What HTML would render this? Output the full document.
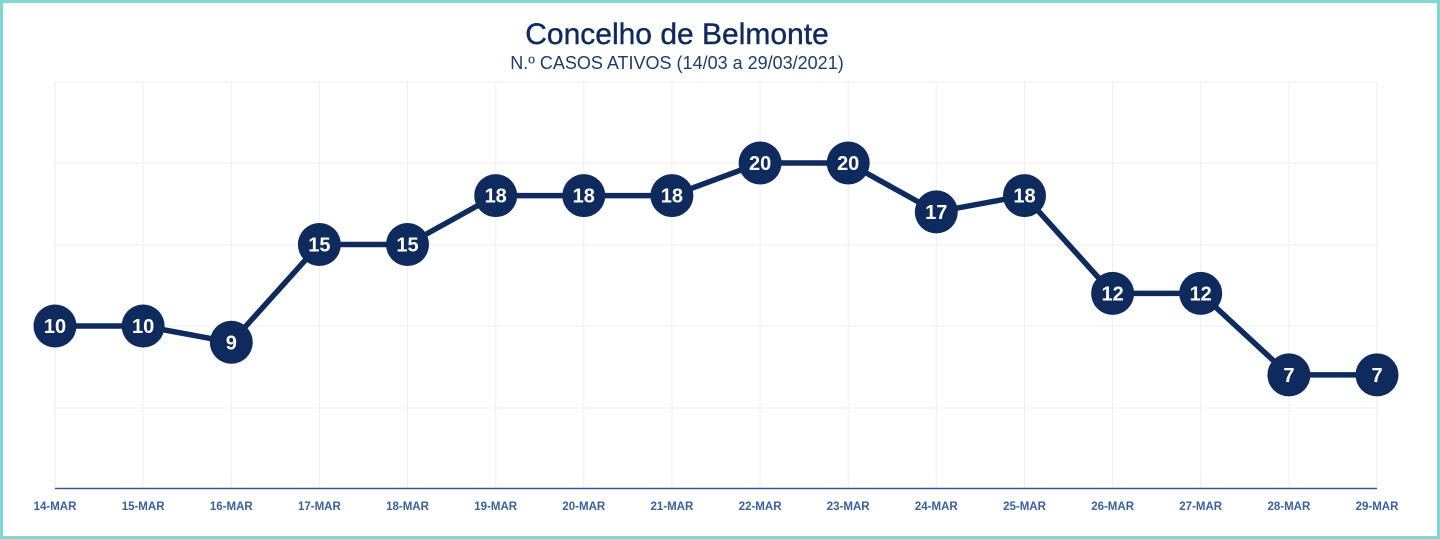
<!DOCTYPE html>
<html><head><meta charset="utf-8"><style>
html,body{margin:0;padding:0;background:#fff;}
svg{display:block;}
</style></head><body>
<svg width="1440" height="539" xmlns="http://www.w3.org/2000/svg" font-family="Liberation Sans, sans-serif">
<rect x="1.5" y="1.5" width="1437" height="536" fill="#fff" stroke="#7fd6d2" stroke-width="3"/>
<text x="677" y="44" text-anchor="middle" font-size="30" fill="#0f2a5c" stroke="#0f2a5c" stroke-width="0.4">Concelho de Belmonte</text>
<text x="677" y="69" text-anchor="middle" font-size="18" fill="#1f3a6e">N.º CASOS ATIVOS (14/03 a 29/03/2021)</text>
<g stroke="#eceef3" stroke-width="1">
<line x1="55" y1="82" x2="1377" y2="82"/>
<line x1="55" y1="163" x2="1377" y2="163"/>
<line x1="55" y1="245" x2="1377" y2="245"/>
<line x1="55" y1="326" x2="1377" y2="326"/>
<line x1="55" y1="408" x2="1377" y2="408"/>
<line x1="55.0" y1="82" x2="55.0" y2="488"/><line x1="143.1" y1="82" x2="143.1" y2="488"/><line x1="231.3" y1="82" x2="231.3" y2="488"/><line x1="319.4" y1="82" x2="319.4" y2="488"/><line x1="407.5" y1="82" x2="407.5" y2="488"/><line x1="495.7" y1="82" x2="495.7" y2="488"/><line x1="583.8" y1="82" x2="583.8" y2="488"/><line x1="671.9" y1="82" x2="671.9" y2="488"/><line x1="760.1" y1="82" x2="760.1" y2="488"/><line x1="848.2" y1="82" x2="848.2" y2="488"/><line x1="936.3" y1="82" x2="936.3" y2="488"/><line x1="1024.5" y1="82" x2="1024.5" y2="488"/><line x1="1112.6" y1="82" x2="1112.6" y2="488"/><line x1="1200.7" y1="82" x2="1200.7" y2="488"/><line x1="1288.9" y1="82" x2="1288.9" y2="488"/><line x1="1377.0" y1="82" x2="1377.0" y2="488"/>
</g>
<line x1="55" y1="488.5" x2="1377" y2="488.5" stroke="#3b5a8c" stroke-width="1.5"/>
<g font-size="11.5" font-weight="bold" fill="#3a5f9e" text-anchor="middle">
<text x="55" y="510">14-MAR</text><text x="143.1" y="510">15-MAR</text><text x="231.3" y="510">16-MAR</text><text x="319.4" y="510">17-MAR</text><text x="407.5" y="510">18-MAR</text><text x="495.7" y="510">19-MAR</text><text x="583.8" y="510">20-MAR</text><text x="671.9" y="510">21-MAR</text><text x="760.1" y="510">22-MAR</text><text x="848.2" y="510">23-MAR</text><text x="936.3" y="510">24-MAR</text><text x="1024.5" y="510">25-MAR</text><text x="1112.6" y="510">26-MAR</text><text x="1200.7" y="510">27-MAR</text><text x="1288.9" y="510">28-MAR</text><text x="1377" y="510">29-MAR</text>
</g>
<polyline fill="none" stroke="#0f2a5c" stroke-width="5.5" stroke-linejoin="round" points="55,326 143.1,326 231.3,342.3 319.4,244.5 407.5,244.5 495.7,195.6 583.8,195.6 671.9,195.6 760.1,163 848.2,163 936.3,211.9 1024.5,195.6 1112.6,293.4 1200.7,293.4 1288.9,374.9 1377,374.9"/>
<g fill="#0f2a5c">
<circle cx="55" cy="326" r="21.5"/><circle cx="143.1" cy="326" r="21.5"/><circle cx="231.3" cy="342.3" r="21.5"/><circle cx="319.4" cy="244.5" r="21.5"/><circle cx="407.5" cy="244.5" r="21.5"/><circle cx="495.7" cy="195.6" r="21.5"/><circle cx="583.8" cy="195.6" r="21.5"/><circle cx="671.9" cy="195.6" r="21.5"/><circle cx="760.1" cy="163" r="21.5"/><circle cx="848.2" cy="163" r="21.5"/><circle cx="936.3" cy="211.9" r="21.5"/><circle cx="1024.5" cy="195.6" r="21.5"/><circle cx="1112.6" cy="293.4" r="21.5"/><circle cx="1200.7" cy="293.4" r="21.5"/><circle cx="1288.9" cy="374.9" r="21.5"/><circle cx="1377" cy="374.9" r="21.5"/>
</g>
<g fill="#fff" font-size="20" font-weight="bold" text-anchor="middle">
<text x="55" y="333">10</text><text x="143.1" y="333">10</text><text x="231.3" y="349.3">9</text><text x="319.4" y="251.5">15</text><text x="407.5" y="251.5">15</text><text x="495.7" y="202.6">18</text><text x="583.8" y="202.6">18</text><text x="671.9" y="202.6">18</text><text x="760.1" y="170">20</text><text x="848.2" y="170">20</text><text x="936.3" y="218.9">17</text><text x="1024.5" y="202.6">18</text><text x="1112.6" y="300.4">12</text><text x="1200.7" y="300.4">12</text><text x="1288.9" y="381.9">7</text><text x="1377" y="381.9">7</text>
</g>
</svg>
</body></html>
